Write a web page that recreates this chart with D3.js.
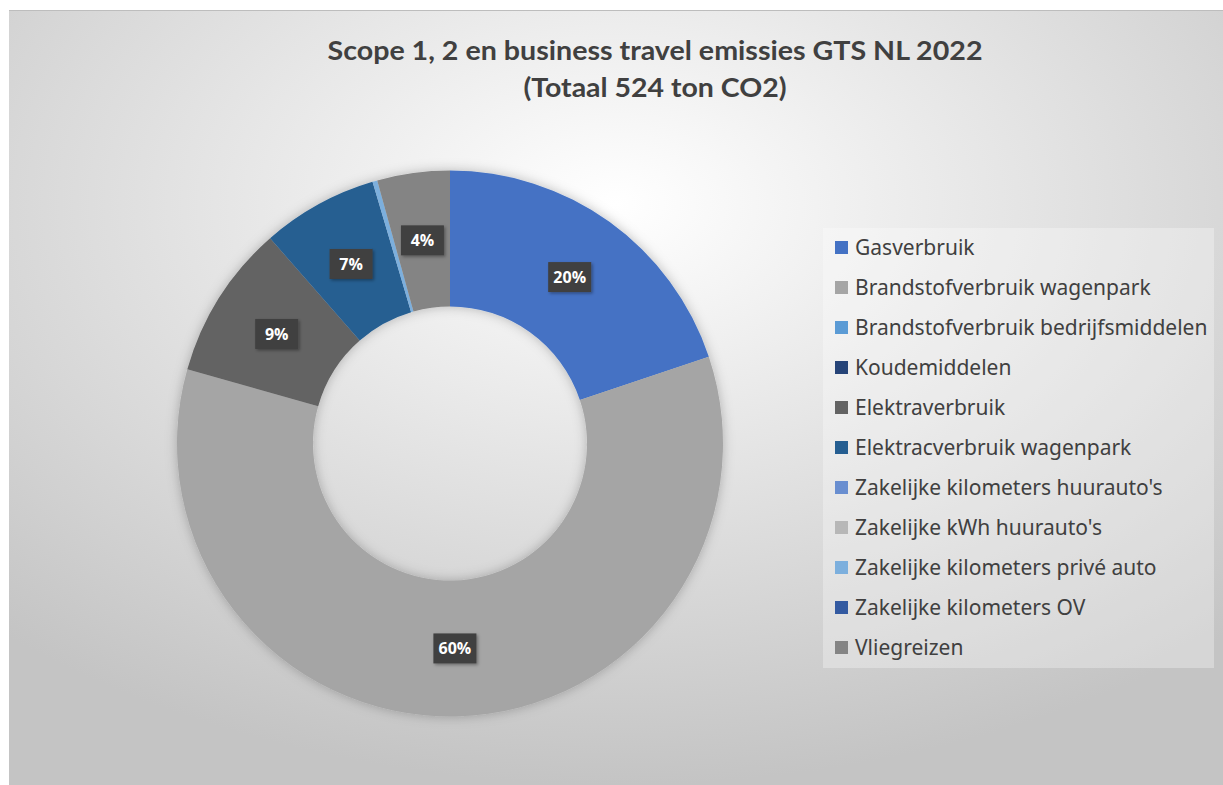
<!DOCTYPE html>
<html>
<head>
<meta charset="utf-8">
<script src="https://cdn.jsdelivr.net/npm/d3@7"></script>
<style>
  body { margin: 0; padding: 0; background: #fff; }
  svg { display: block; }
</style>
</head>
<body>
<div id="chart"></div>
<script>
// emissies per categorie (ton CO2), totaal 524
var categories = ["Gasverbruik", "Brandstofverbruik wagenpark", "Brandstofverbruik bedrijfsmiddelen",
  "Koudemiddelen", "Elektraverbruik", "Elektracverbruik wagenpark", "Zakelijke kilometers huurauto's",
  "Zakelijke kWh huurauto's", "Zakelijke kilometers privé auto", "Zakelijke kilometers OV", "Vliegreizen"];
var values = [104, 312, 0, 0, 48, 36, 0, 0, 1.5, 0, 22.5];
var colors = ["#4472C4", "#A5A5A5", "#5B9BD5", "#264478", "#636363", "#255E91",
  "#698ED0", "#B7B7B7", "#7CAFDD", "#335AA1", "#848484"];
var titleLines = ["Scope 1, 2 en business travel emissies GTS NL 2022", "(Totaal 524 ton CO2)"];

var W = 1223, H = 785;
var svg = d3.select("#chart").append("svg").attr("width", W).attr("height", H);
var defs = svg.append("defs");

// achtergrond: radiale gradient
var bg = defs.append("radialGradient").attr("id", "bg")
  .attr("cx", "50%").attr("cy", "25%").attr("r", "75%");
bg.append("stop").attr("offset", "0%").attr("stop-color", "#ffffff");
bg.append("stop").attr("offset", "100%").attr("stop-color", "#c4c4c4");

var sh = defs.append("filter").attr("id", "shadow").attr("x", "-20%").attr("y", "-20%").attr("width", "140%").attr("height", "140%");
sh.append("feDropShadow").attr("dx", 0).attr("dy", 0).attr("stdDeviation", 6)
  .attr("flood-color", "#000").attr("flood-opacity", 0.25);

var lsh = defs.append("filter").attr("id", "lshadow").attr("x", "-30%").attr("y", "-30%").attr("width", "160%").attr("height", "160%");
lsh.append("feDropShadow").attr("dx", 1.5).attr("dy", 1.5).attr("stdDeviation", 1.5)
  .attr("flood-color", "#000").attr("flood-opacity", 0.35);

svg.append("rect").attr("x", 9).attr("y", 10).attr("width", W - 9).attr("height", H - 10)
  .attr("fill", "url(#bg)");
svg.append("line").attr("x1", 9).attr("x2", W).attr("y1", 10.5).attr("y2", 10.5)
  .attr("stroke", "#bdbdbd").attr("stroke-width", 1);

// titel
var titleWidths = [655, 263];
svg.append("g").selectAll("text").data(titleLines).enter().append("text")
  .attr("x", 655).attr("y", function(d, i) { return 60 + i * 37; })
  .attr("text-anchor", "middle")
  .attr("font-family", "Lato, 'Open Sans', sans-serif")
  .attr("font-weight", "bold").attr("font-size", 27)
  .attr("textLength", function(d, i) { return titleWidths[i]; })
  .attr("lengthAdjust", "spacingAndGlyphs")
  .attr("fill", "#404040")
  .text(function(d) { return d; });

// donut
var cx = 450, cy = 443.5, rOuter = 273, rInner = 137;
var pie = d3.pie().sort(null).value(function(d) { return d; });
var arc = d3.arc().innerRadius(rInner).outerRadius(rOuter);
var labelArc = d3.arc().innerRadius((rInner + rOuter) / 2).outerRadius((rInner + rOuter) / 2);
var total = d3.sum(values);
var arcs = pie(values);

var g = svg.append("g").attr("transform", "translate(" + cx + "," + cy + ")");
g.append("g").attr("filter", "url(#shadow)")
  .selectAll("path").data(arcs.filter(function(d) { return d.value > 0; })).enter().append("path")
  .attr("d", arc)
  .attr("fill", function(d) { return colors[d.index]; });

// data labels (alleen voor zichtbare slices)
var lab = g.selectAll("g.lab").data(arcs.filter(function(d) { return d.value / total >= 0.02; }))
  .enter().append("g").attr("class", "lab")
  .attr("transform", function(d) { return "translate(" + labelArc.centroid(d) + ")"; });
lab.append("rect").attr("x", -21.5).attr("y", -15).attr("width", 43).attr("height", 30)
  .attr("fill", "#404040").attr("filter", "url(#lshadow)");
lab.append("text").attr("text-anchor", "middle").attr("dy", "0.36em")
  .attr("font-family", "'Open Sans', sans-serif").attr("font-weight", "bold").attr("font-size", 16)
  .attr("fill", "#fff")
  .text(function(d) { return Math.round(d.value / total * 100) + "%"; });

// legenda
var legend = svg.append("g");
legend.append("rect").attr("x", 823).attr("y", 228).attr("width", 391).attr("height", 440)
  .attr("fill", "#ffffff").attr("fill-opacity", 0.3);
var item = legend.selectAll("g.item").data(categories).enter().append("g").attr("class", "item")
  .attr("transform", function(d, i) { return "translate(835," + (248 + i * 40) + ")"; });
item.append("rect").attr("x", 0).attr("y", -7).attr("width", 13).attr("height", 13)
  .attr("fill", function(d, i) { return colors[i]; });
item.append("text").attr("x", 20).attr("dy", "0.35em")
  .attr("font-family", "'Noto Sans', sans-serif").attr("font-size", 21)
  .attr("fill", "#404040")
  .text(function(d) { return d; });
</script>
</body>
</html>
